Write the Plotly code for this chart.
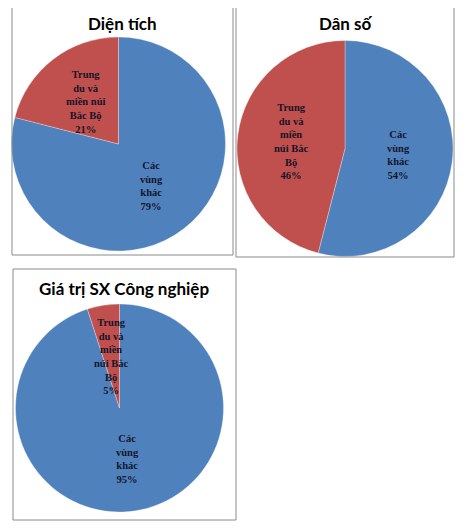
import math
import plotly.graph_objects as go

# chart data
titles = ['Diện tích', 'Dân số', 'Giá trị SX Công nghiệp']
region_names = ['Các vùng khác', 'Trung du và miền núi Bắc Bộ']
area = [79, 21]
population = [54, 46]
industry = [95, 5]

# wrapped label text, as it appears in each pie
label_lines = [
    ['Các<br>vùng<br>khác', 'Trung<br>du và<br>miền núi<br>Bắc Bộ'],
    ['Các<br>vùng<br>khác', 'Trung<br>du và<br>miền<br>núi Bắc<br>Bộ'],
    ['Các<br>vùng<br>khác', 'Trung<br>du và<br>miền<br>núi Bắc<br>Bộ'],
]

# the page body keeps its 8px default margin, so the figure is 8px smaller
PAGE_MARGIN = 8
W, H = 472 - PAGE_MARGIN, 528 - PAGE_MARGIN
BLUE = '#4F81BD'
RED = '#C0504D'

# pie centre (px) and radius, panel box (px) and title position (px), window coords
pies = [
    {'values': area, 'cx': 118.5, 'cy': 144, 'r': 107,
     'box': (12, 4, 233, 255), 'title_x': 122, 'title_y': 23},
    {'values': population, 'cx': 345, 'cy': 148.5, 'r': 108,
     'box': (236, 4, 454, 257), 'title_x': 346, 'title_y': 23},
    {'values': industry, 'cx': 119.5, 'cy': 408, 'r': 104,
     'box': (13, 269, 236, 520), 'title_x': 124, 'title_y': 288},
]


def px_x(v):
    return (v - PAGE_MARGIN) / W


def px_y(v):
    return 1 - (v - PAGE_MARGIN) / H


fig = go.Figure()
annotations = []
shapes = []

for i, p in enumerate(pies):
    fig.add_trace(go.Pie(
        labels=region_names,
        values=p['values'],
        sort=False,
        direction='clockwise',
        rotation=0,
        marker=dict(colors=[BLUE, RED], line=dict(color='rgba(255,255,255,0.5)', width=0.6)),
        textinfo='none',
        hoverinfo='label+percent',
        showlegend=False,
        domain=dict(x=[px_x(p['cx'] - p['r']), px_x(p['cx'] + p['r'])],
                    y=[px_y(p['cy'] + p['r']), px_y(p['cy'] - p['r'])]),
    ))

    # data labels at the middle of each slice, half way out
    total = sum(p['values'])
    start = 0
    for j, v in enumerate(p['values']):
        mid = (start + v / 2) / total * 2 * math.pi
        start += v
        lx = p['cx'] + 0.5 * p['r'] * math.sin(mid)
        ly = p['cy'] - 0.5 * p['r'] * math.cos(mid)
        pct = round(v / total * 100)
        annotations.append(dict(
            x=px_x(lx), y=px_y(ly), xref='paper', yref='paper',
            xanchor='center', yanchor='middle',
            text='<b>%s<br>%d%%</b>' % (label_lines[i][j], pct),
            showarrow=False,
            font=dict(family='Liberation Serif', size=10.5, color='#15152a'),
            align='center',
        ))

    annotations.append(dict(
        x=px_x(p['title_x']), y=px_y(p['title_y']), xref='paper', yref='paper',
        xanchor='center', yanchor='middle',
        text='<b>%s</b>' % titles[i], showarrow=False,
        font=dict(family='Lato', size=17, color='#000000'),
    ))

    x0, y0, x1, y1 = p['box']
    shapes.append(dict(type='rect', xref='paper', yref='paper',
                       x0=px_x(x0), x1=px_x(x1), y0=px_y(y1), y1=px_y(y0),
                       line=dict(color='#8a8a8a', width=1)))

fig.update_layout(
    width=W, height=H,
    margin=dict(l=0, r=0, t=0, b=0),
    paper_bgcolor='white',
    plot_bgcolor='white',
    annotations=annotations,
    shapes=shapes,
)

fig.write_html('out.html')
